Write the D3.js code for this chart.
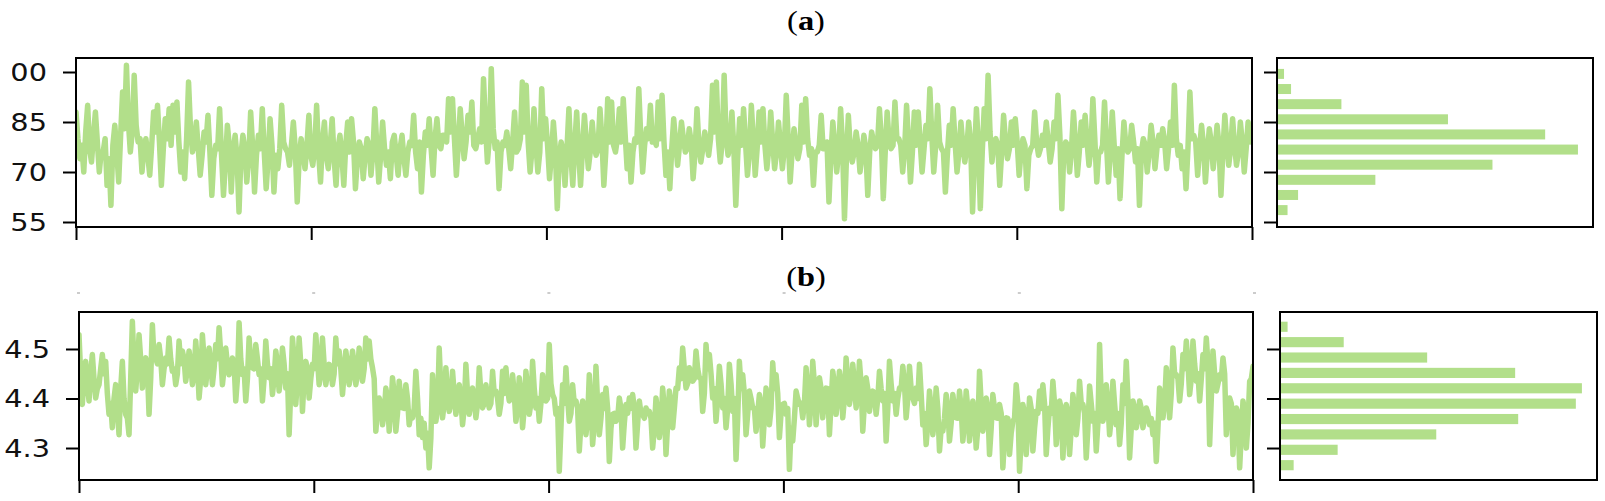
<!DOCTYPE html>
<html>
<head>
<meta charset="utf-8">
<script src="https://cdn.jsdelivr.net/npm/d3@7"></script>
<style>
  body { margin: 0; background: #fff; }
  svg { display: block; }
</style>
</head>
<body>
<svg id="chart" width="1605" height="501"></svg>
<script>
// panel (a) signal left to right
const seriesA = [
  88,80,74,78,70,82,90,77,73,81,88,79,70,76,76,80,66,74,60,78,84,76,67,81,94,83,102,85,76,82,99,84,79,80,70,77,80,75,69,78,
  88,82,90,79,66,77,86,80,89,78,90,82,91,79,70,76,68,80,97,83,76,79,85,77,69,75,82,79,87,76,63,74,78,77,89,75,63,73,84,78,
  64,76,81,74,58,75,81,77,67,74,88,78,64,75,81,77,89,76,65,74,86,78,64,75,71,77,90,79,77,76,72,78,85,77,61,74,80,76,71,78,
  87,75,72,77,90,76,67,79,85,75,71,78,86,74,66,77,81,75,66,78,85,76,86,79,65,74,79,77,68,75,80,78,69,76,89,78,67,75,85,77,
  72,76,68,79,81,75,69,77,81,74,69,76,79,78,87,76,71,79,64,75,82,78,86,77,69,80,86,78,77,81,81,79,92,82,92,80,69,78,89,81,
  74,79,87,82,91,78,77,80,83,79,98,84,73,80,101,83,77,79,65,76,79,78,82,77,71,79,88,76,77,80,97,82,96,79,70,77,89,78,70,76,
  95,80,86,78,68,75,85,77,59,74,79,76,66,77,89,75,66,78,88,76,66,77,87,79,71,76,85,78,75,77,89,80,66,76,92,79,91,78,76,80,
  89,79,92,81,71,78,67,76,80,79,95,81,70,78,83,80,90,79,
  80,78,91,80,93,79,69,76,65,77,86,79,72,78,85,80,76,77,83,79,68,76,89,78,73,77,82,79,75,80,96,82,97,80,73,79,99,81,75,78,
  88,77,60,75,86,78,89,79,69,76,90,80,69,77,88,79,89,78,71,77,88,79,71,76,85,78,71,77,93,80,67,76,83,78,74,77,90,79,92,80,
  75,77,66,76,76,78,87,77,77,79,61,75,85,78,70,76,89,78,56,74,87,77,73,76,82,78,70,75,81,77,63,76,82,79,77,78,89,80,62,76,
  88,79,77,78,91,80,80,78,70,77,90,79,67,76,88,78,88,79,70,77,84,80,95,81,70,78,90,79,77,76,64,75,84,78,89,79,70,76,85,78,
  73,77,85,79,58,75,89,78,59,76,89,80,99,82,73,79,80,78,66,76,87,79,74,77,85,78,86,79,69,76,80,78,65,75,77,78,88,79,75,77,
  81,78,85,79,73,77,85,80,93,81,59,76,79,78,70,77,88,79,69,76,85,78,87,79,72,77,92,80,67,76,76,78,91,79,67,76,88,78,69,77,
  62,75,85,78,76,77,84,79,73,77,60,76,80,78,70,76,84,79,71,77,81,78,83,79,71,77,85,78,96,80,75,78,71,76,65,77,94,80,81,79,
  69,77,84,78,67,76,83,79,71,77,84,78,63,76,87,79,72,77,86,78,72,76,85,79,70,77,85,79,80
];

// panel (b) signal
const seriesB = [
  4.529,4.45,4.388,4.44,4.475,4.43,4.395,4.45,4.489,4.44,4.401,4.42,4.428,4.46,4.489,4.45,4.475,4.41,4.368,4.39,
  4.341,4.40,4.428,4.38,4.327,4.42,4.475,4.40,4.368,4.36,4.327,4.44,4.556,4.47,4.415,4.46,4.529,4.48,4.421,4.47,
  4.482,4.46,4.368,4.44,4.549,4.48,4.482,4.47,4.509,4.48,4.428,4.46,4.482,4.47,4.522,4.48,4.455,4.46,4.428,4.45,
  4.516,4.47,4.496,4.48,4.435,4.46,4.496,4.47,4.428,4.45,4.516,4.47,4.401,4.44,4.529,4.48,4.428,4.46,4.502,4.47,
  4.428,4.46,4.509,4.48,4.543,4.49,4.428,4.46,4.502,4.47,4.448,4.46,4.482,4.47,4.395,4.44,4.553,4.48,4.448,4.46,
  4.395,4.44,4.522,4.47,4.462,4.46,4.509,4.48,4.448,4.46,4.395,4.44,4.516,4.47,4.442,4.46,4.408,4.44,4.496,4.47,
  4.415,4.45,4.502,4.47,4.421,4.45,4.327,4.42,4.522,4.48,4.388,4.44,4.522,4.47,4.374,4.44,4.475,4.46,4.401,4.44,
  4.469,4.46,4.529,4.48,4.428,4.45,4.522,4.47,4.428,4.45,4.469,4.46,4.428,4.45,4.522,4.47,4.496,4.46,4.408,4.45,
  4.496,4.47,4.428,4.45,4.496,4.47,4.428,4.45,4.502,4.47,4.435,4.46,4.522,4.48,4.516,4.48,4.462,4.44,4.334,4.38,
  4.401,4.39,4.347,4.37,4.421,4.40,4.334,4.38,4.442,4.41,4.334,4.37,4.435,4.40,4.381,4.38,4.428,4.40,4.347,4.37,
  4.361,4.38,4.455,4.40,4.327,4.36,4.321,4.35,4.300,4.33,4.260,4.32,4.448,4.40,4.354,4.38,4.502,4.42,4.361,4.39,
  4.462,4.41,4.374,4.39,4.455,4.41,4.368,4.39,4.428,4.40,4.347,4.38,4.469,4.41,4.368,4.39,4.421,4.40,4.361,4.39,
  4.462,4.41,4.381,4.39,4.428,4.40,4.381,4.39,4.455,4.41,4.415,4.40,4.368,4.39,4.455,4.41,4.462,4.42,4.395,4.40,
  4.448,4.41,4.354,4.38,4.442,4.41,4.341,4.38,4.455,4.42,4.368,4.39,4.475,4.42,4.381,4.40,4.354,4.39,4.448,4.41,
  4.395,4.40,4.509,4.43,4.408,4.40,4.368,4.38,4.253,4.34,4.428,4.39,4.462,4.40,4.354,4.37,4.428,4.39,4.395,4.38,
  4.294,4.35,4.395,4.38,4.327,4.36,4.448,4.39,4.307,4.35,4.465,4.39,4.327,4.36,4.408,4.38,4.421,4.38,4.273,4.34,
  4.368,4.37,4.354,4.36,4.401,4.38,4.300,4.35,4.388,4.37,4.401,4.38,4.408,4.38,4.300,4.35,4.395,4.37,4.368,4.36,
  4.381,4.37,
  4.374,4.36,4.300,4.34,4.401,4.37,4.321,4.35,4.421,4.38,4.287,4.35,4.415,4.39,4.341,4.38,4.421,4.42,4.462,4.44,
  4.502,4.46,4.421,4.43,4.462,4.45,4.435,4.44,4.496,4.46,4.442,4.44,4.374,4.41,4.509,4.46,4.489,4.45,4.401,4.42,
  4.354,4.40,4.465,4.43,4.381,4.40,4.341,4.38,4.469,4.43,4.374,4.40,4.277,4.36,4.475,4.42,4.448,4.41,4.327,4.37,
  4.415,4.40,4.381,4.38,4.334,4.37,4.408,4.39,4.304,4.36,4.421,4.40,4.347,4.38,4.472,4.42,4.448,4.41,4.321,4.37,
  4.388,4.39,4.368,4.38,4.257,4.34,4.314,4.36,4.415,4.40,4.388,4.39,4.361,4.39,4.462,4.42,4.347,4.39,4.475,4.43,
  4.347,4.40,4.442,4.42,4.361,4.40,4.421,4.42,4.327,4.39,4.455,4.43,4.368,4.40,4.455,4.43,4.361,4.40,4.482,4.44,
  4.388,4.41,4.469,4.43,4.381,4.41,4.475,4.43,4.334,4.39,4.442,4.42,4.374,4.40,4.415,4.41,4.368,4.40,4.455,4.42,
  4.395,4.41,4.314,4.38,4.475,4.43,4.395,4.41,4.368,4.40,4.421,4.42,4.465,4.43,4.361,4.40,4.465,4.42,4.401,4.39,
  4.421,4.40,4.469,4.41,4.347,4.37,4.307,4.35,4.415,4.38,4.327,4.36,4.421,4.38,4.294,4.34,4.334,4.36,4.408,4.38,
  4.314,4.35,4.408,4.38,4.361,4.36,4.415,4.38,4.314,4.35,4.415,4.38,4.314,4.35,4.395,4.37,4.300,4.34,4.455,4.39,
  4.334,4.36,4.401,4.38,4.287,4.34,4.408,4.38,4.361,4.36,4.388,4.37,4.260,4.32,4.361,4.36,4.287,4.33,4.354,4.36,
  4.428,4.39,4.253,4.32,4.388,4.37,4.287,4.34,4.401,4.38,4.294,4.34,4.374,4.37,4.415,4.38,4.428,4.39,4.287,4.34,
  4.381,4.37,4.435,4.39,4.307,4.35,4.395,4.38,4.280,4.34,4.388,4.37,4.287,4.34,4.408,4.38,4.327,4.36,4.435,4.39,
  4.388,4.37,4.280,4.34,4.425,4.39,4.354,4.37,4.294,4.35,4.509,4.40,4.354,4.37,4.428,4.39,4.327,4.36,4.435,4.39,
  4.347,4.37,4.307,4.35,4.428,4.39,4.475,4.40,4.280,4.34,4.395,4.38,4.341,4.36,4.395,4.38,4.341,4.36,4.381,4.37,
  4.347,4.36,4.327,4.35,4.273,4.34,4.421,4.40,4.361,4.39,4.462,4.43,4.361,4.41,4.502,4.45,4.448,4.44,4.395,4.43,
  4.489,4.46,4.516,4.47,4.408,4.44,4.516,4.47,4.435,4.45,4.395,4.44,4.489,4.46,4.522,4.47,4.307,4.40,4.496,4.45,
  4.415,4.43,4.448,4.44,4.482,4.45,4.327,4.38,4.401,4.39,4.287,4.35,4.381,4.37,4.260,4.33,4.395,4.37,4.300,4.35,
  4.435,4.44,4.465
];

// histogram counts, lowest bin first
const histCountsA = [9, 18, 84, 184, 257, 229, 146, 55, 12, 6];
const histRangeA = [56.3, 101.7];
const histCountsB = [9, 38, 103, 157, 195, 199, 155, 97, 42, 5];
const histRangeB = [4.2498, 4.5604];

const xTicks = [0, 200, 400, 600, 800, 1000];
const yTicksA = [100, 85, 70, 55];
const yTicksB = [4.5, 4.4, 4.3];
const yDomainA = [53.5, 104.2];
const yDomainB = [4.2354, 4.5747];
const titles = ["a", "b"];

const svg = d3.select("#chart");
const green = "#b2df8a";
const stretch = 1.2; // text in the picture is drawn a bit wider than normal

function drawPanel(p) {
  const x = d3.scaleLinear().domain([0, 1000]).range([p.main.x0, p.main.x1]);
  const y = d3.scaleLinear().domain(p.yDomain).range([p.main.y1, p.main.y0]);
  const n = p.series.length;

  svg.append("clipPath").attr("id", p.id + "-clip")
    .append("rect")
    .attr("x", p.main.x0).attr("y", p.main.y0)
    .attr("width", p.main.x1 - p.main.x0).attr("height", p.main.y1 - p.main.y0);

  const line = d3.line()
    .x((d, i) => x((i * 1000) / (n - 1)))
    .y((d) => y(d));

  svg.append("path")
    .datum(p.series)
    .attr("d", line)
    .attr("fill", "none")
    .attr("stroke", green)
    .attr("stroke-width", 5.5)
    .attr("stroke-linejoin", "round")
    .attr("stroke-linecap", "round")
    .attr("clip-path", `url(#${p.id}-clip)`);

  svg.append("g")
    .attr("transform", `translate(0,${p.main.y1})`)
    .call(d3.axisBottom(x).tickValues(xTicks).tickSize(13).tickFormat(""))
    .call(styleAxis);

  svg.append("g")
    .attr("transform", `translate(${p.main.x0},0)`)
    .call(d3.axisLeft(y).tickValues(p.yTicks).tickSize(13).tickFormat(""))
    .call(styleAxis);

  // tick labels, drawn by hand so they can be stretched like the picture
  if (p.labelClip) {
    svg.append("clipPath").attr("id", p.id + "-lclip")
      .append("rect").attr("x", p.labelClip).attr("y", 0).attr("width", 200).attr("height", 501);
  }
  const labels = svg.append("g").attr("clip-path", p.labelClip ? `url(#${p.id}-lclip)` : null);
  labels.selectAll("text")
    .data(p.yTicks)
    .join("text")
    .attr("transform", (d) => `translate(${p.main.x0 - 29},${y(d)}) scale(${stretch},1)`)
    .attr("text-anchor", "end")
    .attr("dominant-baseline", "central")
    .attr("font-family", "DejaVu Sans")
    .attr("font-size", 24)
    .attr("fill", "#111")
    .text(p.fmt);

  svg.append("rect")
    .attr("x", p.main.x0).attr("y", p.main.y0)
    .attr("width", p.main.x1 - p.main.x0).attr("height", p.main.y1 - p.main.y0)
    .attr("fill", "none").attr("stroke", "#000").attr("stroke-width", 2);

  // histogram on the right, shares the y values
  const hx = d3.scaleLinear()
    .domain([0, d3.max(p.counts) * 1.05])
    .range([p.hist.x0, p.hist.x1]);
  const hy = d3.scaleLinear().domain(p.yDomain).range([p.hist.y1, p.hist.y0]);
  const step = (p.binRange[1] - p.binRange[0]) / p.counts.length;
  const bins = p.counts.map((c, i) => ({
    lo: p.binRange[0] + i * step,
    hi: p.binRange[0] + (i + 1) * step,
    count: c,
  }));
  const pad = step * 0.17;

  svg.append("g")
    .selectAll("rect")
    .data(bins)
    .join("rect")
    .attr("x", hx(0))
    .attr("y", (d) => hy(d.hi - pad))
    .attr("width", (d) => hx(d.count) - hx(0))
    .attr("height", (d) => hy(d.lo + pad) - hy(d.hi - pad))
    .attr("fill", green);

  svg.append("g")
    .attr("transform", `translate(${p.hist.x0},0)`)
    .call(d3.axisLeft(hy).tickValues(p.yTicks).tickSize(13).tickFormat(""))
    .call(styleAxis);

  svg.append("rect")
    .attr("x", p.hist.x0).attr("y", p.hist.y0)
    .attr("width", p.hist.x1 - p.hist.x0).attr("height", p.hist.y1 - p.hist.y0)
    .attr("fill", "none").attr("stroke", "#000").attr("stroke-width", 2);

  const t = svg.append("text")
    .attr("transform", `translate(806,${p.titleY}) scale(${stretch},1)`)
    .attr("text-anchor", "middle")
    .attr("font-family", "Liberation Serif")
    .attr("font-size", 27)
    .attr("fill", "#000");
  t.append("tspan").text("(");
  t.append("tspan").attr("font-weight", "bold").text(p.title);
  t.append("tspan").text(")");

  return x;
}

function styleAxis(g) {
  g.select(".domain").remove();
  g.selectAll(".tick line").attr("stroke", "#000").attr("stroke-width", 2);
}

const xA = drawPanel({
  id: "a",
  series: seriesA,
  yDomain: yDomainA,
  yTicks: yTicksA,
  fmt: (d) => d3.format("d")(d),
  counts: histCountsA,
  binRange: histRangeA,
  main: { x0: 76, x1: 1252, y0: 58, y1: 227 },
  hist: { x0: 1277, x1: 1593, y0: 58, y1: 227 },
  title: titles[0],
  titleY: 30,
  labelClip: 12,
});

drawPanel({
  id: "b",
  series: seriesB,
  yDomain: yDomainB,
  yTicks: yTicksB,
  fmt: (d) => d3.format(".1f")(d),
  counts: histCountsB,
  binRange: histRangeB,
  main: { x0: 79, x1: 1253, y0: 312, y1: 480 },
  hist: { x0: 1280, x1: 1597, y0: 312, y1: 480 },
  title: titles[1],
  titleY: 286,
  labelClip: null,
});

// what is left of the clipped x tick labels of panel (a)
svg.append("g")
  .selectAll("line")
  .data(xTicks)
  .join("line")
  .attr("x1", (d) => xA(d) + 1)
  .attr("x2", (d) => xA(d) + 4)
  .attr("y1", 293)
  .attr("y2", 293)
  .attr("stroke", "#999")
  .attr("stroke-width", 1);
</script>
</body>
</html>
